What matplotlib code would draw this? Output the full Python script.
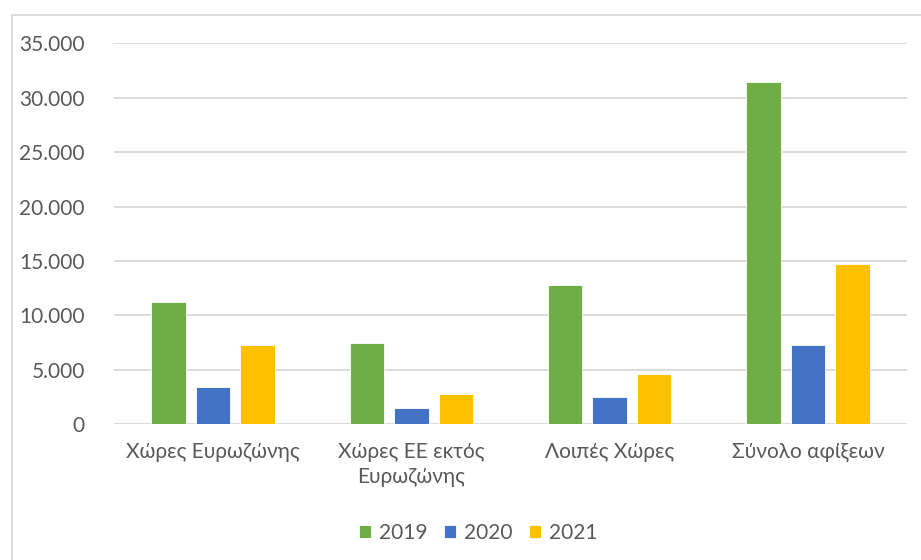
import matplotlib.pyplot as plt
from matplotlib.patches import Rectangle
import numpy as np

categories = ["Χώρες Ευρωζώνης", "Χώρες ΕΕ εκτός\nΕυρωζώνης", "Λοιπές Χώρες", "Σύνολο αφίξεων"]
years = ["2019", "2020", "2021"]
vals_2019 = [11190, 7450, 12790, 31450]
vals_2020 = [3460, 1470, 2510, 7320]
vals_2021 = [7320, 2760, 4660, 14720]
colors = ["#70AD47", "#4472C4", "#FFC000"]

plt.rcParams['font.family'] = ['Lato', 'Noto Sans', 'DejaVu Sans']
text_col = "#595959"
grid_col = "#D9D9D9"

fig = plt.figure(figsize=(9.21, 5.60), dpi=100)
ax = fig.add_axes([114/921, (560-424.3)/560, (907-114)/921, (424.3-43.3)/560])

# chart border, as in the spreadsheet export
fig.patches.append(Rectangle((12/921, -0.1), 1.0, (560-15)/560 + 0.1, transform=fig.transFigure,
                             fill=False, edgecolor=grid_col, linewidth=1.3))

x = np.arange(len(categories))
step = 0.2245
width = 0.174
for i, (vals, yr) in enumerate(zip([vals_2019, vals_2020, vals_2021], years)):
    ax.bar(x + (i - 1) * step, vals, width, color=colors[i], label=yr,
           edgecolor="white", linewidth=0.6, zorder=3)

ax.set_xlim(-0.5, 3.5)
ax.set_ylim(0, 35000)
ax.set_yticks(np.arange(0, 35001, 5000))
ax.set_yticklabels([f"{v:,}".replace(",", ".") for v in range(0, 35001, 5000)])
ax.yaxis.grid(True, color=grid_col, linewidth=1.3)
ax.set_axisbelow(True)
ax.set_xticks(x)
ax.set_xticklabels(categories, linespacing=1.3)
for s in ax.spines.values():
    s.set_visible(False)
ax.tick_params(axis='both', length=0, labelsize=15, colors=text_col)
ax.tick_params(axis='y', pad=21)
ax.tick_params(axis='x', pad=13)

leg = fig.legend(loc='center', bbox_to_anchor=(478/921, (560-533)/560), ncol=3, frameon=False,
                 fontsize=15, handlelength=0.6, handleheight=0.6, handletextpad=0.35,
                 columnspacing=0.8, labelcolor=text_col)

fig.savefig("out.png", dpi=100)
